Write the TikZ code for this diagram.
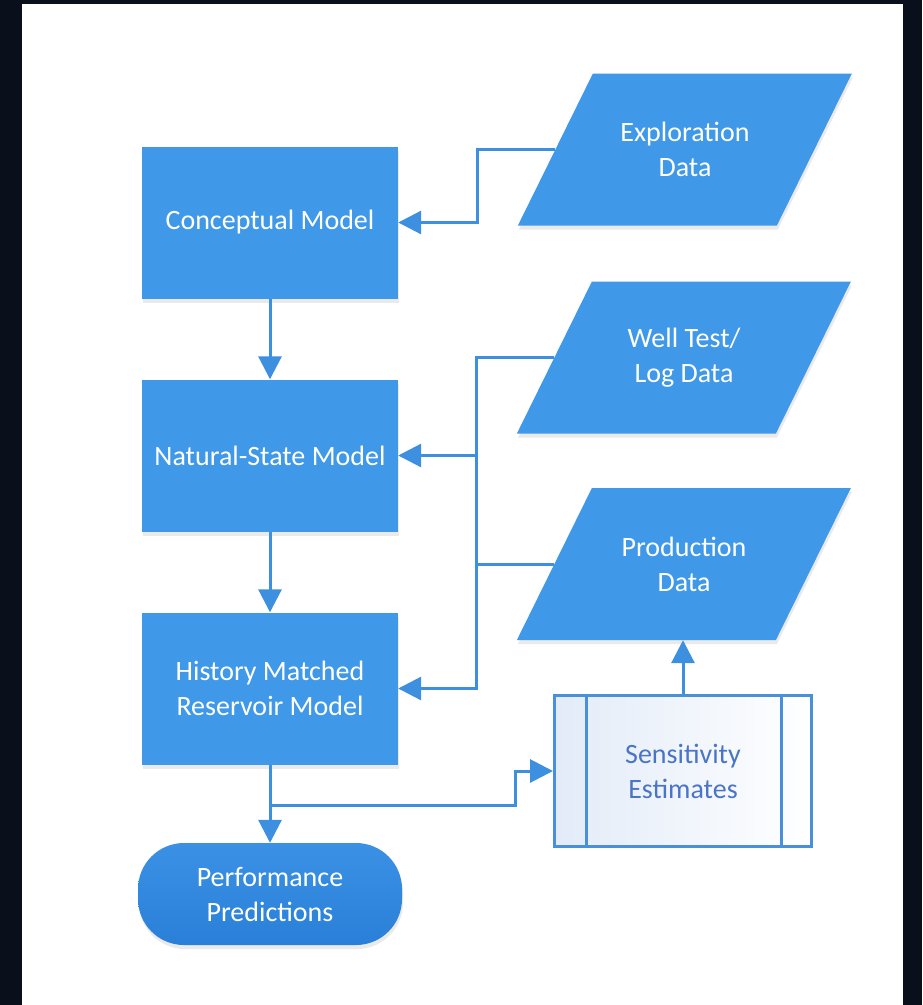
\documentclass[tikz,border=0pt]{standalone}
\usepackage{fontspec}
\setmainfont{Carlito}
\usetikzlibrary{arrows.meta}
\usetikzlibrary{shadows}
\usetikzlibrary{backgrounds}
\tikzset{>={Triangle[length=23pt, width=23pt]}}
\definecolor{navy}{HTML}{0A0F1C}
\definecolor{boxblue}{HTML}{4098E8}
\definecolor{linkblue}{HTML}{3D8FE0}
\definecolor{termtop}{HTML}{3A91E4}
\definecolor{termbot}{HTML}{2A80D8}
\definecolor{subfill}{HTML}{E2EBF8}
\definecolor{subline}{HTML}{4A8FDA}
\definecolor{subtext}{HTML}{4A74C6}
\newcommand{\flowfont}{\fontsize{28}{35}\selectfont}
\tikzstyle{softshadow}=[drop shadow={shadow xshift=1pt, shadow yshift=-4pt, opacity=0.18, fill=black!45}]
\tikzstyle{procbox}=[rectangle, fill=boxblue, text=white, font=\flowfont, align=center, minimum width=256pt, minimum height=152pt, inner sep=0pt, softshadow]
% text part of the data boxes, the slanted shape goes behind it
\tikzstyle{iobox}=[rectangle, text=white, font=\flowfont, align=center, minimum width=259pt, minimum height=152pt, inner sep=0pt]
\tikzstyle{termbox}=[rectangle, rounded corners=46pt, top color=termtop, bottom color=termbot, text=white, font=\flowfont, align=center, minimum width=264pt, minimum height=102pt, inner sep=0pt, softshadow]
\tikzstyle{subbox}=[rectangle, draw=subline, line width=3pt, left color=subfill, right color=white, text=subtext, font=\flowfont, align=center, minimum width=257pt, minimum height=151pt, inner sep=0pt,
	path picture={
		\draw[subline, line width=3pt] ([xshift=32pt]path picture bounding box.north west) -- ([xshift=32pt]path picture bounding box.south west);
		\draw[subline, line width=3pt] ([xshift=-30pt]path picture bounding box.north east) -- ([xshift=-30pt]path picture bounding box.south east);
	}]
\tikzstyle{flow}=[draw=linkblue, line width=3pt, ->]
\tikzstyle{link}=[draw=linkblue, line width=3pt]

\begin{document}
\begin{tikzpicture}[x=1pt, y=-1pt]
			\useasboundingbox (0,0) rectangle (922,1005);

			% models
			\node[procbox] (concept) at (270,222.5) {Conceptual Model};
			\node[procbox] (natural) at (270,455.5) {Natural-State Model};
			\node[procbox] (history) at (270,688.5) {History Matched\\Reservoir Model};
			\node[termbox] (predict) at (270,894) {Performance\\Predictions};

			% data
			\node[iobox] (explore) at (685,149.5) {Exploration\\Data};
			\node[iobox] (welltest) at (684,357.5) {Well Test/\\Log Data};
			\node[iobox] (produce) at (684,564) {Production\\Data};
			\node[subbox] (sensit) at (683,771) {Sensitivity\\Estimates};

			\begin{scope}[on background layer]
				% frame
				\fill[navy] (0,0) rectangle (922,1005);
				\fill[white] (22,4) rectangle (903,1005);
				\foreach \n in {explore, welltest, produce}
					\fill[boxblue, softshadow] (\n.south west) ++(-37.5,0) -- ++(259,0) -- ++(75,-152) -- ++(-259,0) -- cycle;
			\end{scope}

			\draw[flow] (explore.west) -- ++(-78,0) |- (concept.east);
			\draw[flow] (concept.south) -- (natural.north);
			\draw[flow] (natural.south) -- (history.north);

			\draw[flow] (welltest.west) -- ++(-78,0) coordinate (bus) |- (history.east);
			\draw[flow] (bus |- natural.east) -- (natural.east);
			\draw[link] (produce.west) -- (bus |- produce.west);

			\draw[flow] (history.south) -- (predict.north);
			\coordinate (split) at ([yshift=-41pt]history.south);
			\draw[flow] (split) -- ++(245,0) |- (sensit.west);
			\draw[flow] (sensit.north) -- (sensit.north |- produce.south);
\end{tikzpicture}
\end{document}
